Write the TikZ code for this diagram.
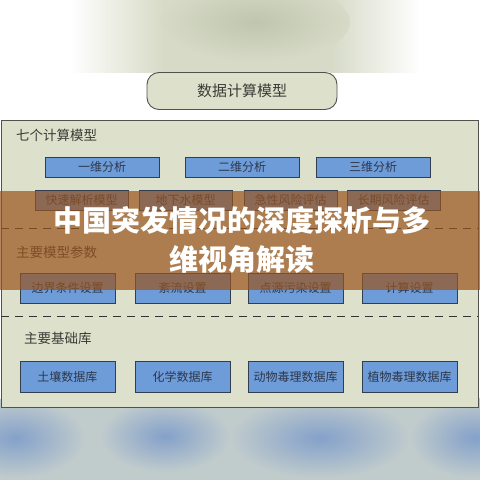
\documentclass[tikz,border=0pt]{standalone}
\usepackage{fontspec}
\newfontfamily\cjk{Noto Sans CJK SC}
\usetikzlibrary{positioning}

\definecolor{paneBg}{RGB}{221,224,202}
\definecolor{paneEdge}{RGB}{80,82,78}
\definecolor{boxBlue}{RGB}{110,156,216}
\definecolor{boxEdge}{RGB}{50,62,80}
\definecolor{boxText}{RGB}{45,55,75}
\definecolor{labelText}{RGB}{60,60,55}
\definecolor{topGreen}{RGB}{214,218,198}
\definecolor{topDark}{RGB}{192,197,176}
\definecolor{bandBrown}{RGB}{153,84,29}
\definecolor{lowBg}{RGB}{192,203,204}
\definecolor{lowBlue}{RGB}{132,161,202}

\begin{document}
\begin{tikzpicture}[x = 1pt, y = -1pt, % pixel grid, y down
                every node/.style = {font = \cjk},
                bluebox/.style = {draw = boxEdge, fill = boxBlue, line width = 0.9pt,
                    inner sep = 0pt, text = boxText, font = \cjk\fontsize{12}{12}\selectfont},
                rowone/.style = {bluebox, minimum width = 114pt, minimum height = 20pt},
                rowtwo/.style = {bluebox, minimum width = 93pt, minimum height = 20pt},
                rowwide/.style = {bluebox, minimum width = 95pt, minimum height = 30pt},
                grouplabel/.style = {anchor = west, inner sep = 0pt, text = labelText,
                    font = \cjk\fontsize{13.5}{13.5}\selectfont},
                sepline/.style = {dashed, dash pattern = on 8pt off 6pt, line width = 0.9pt,
                    draw = black!80}
            ]

            \useasboundingbox (0,0) rectangle (480,480);
            \fill[white] (0,0) rectangle (480,480);

            % blurred strip on top
            \shade[left color = white, right color = topGreen] (70,0) rectangle (165,72);
            \fill[topGreen] (165,0) rectangle (330,72);
            \shade[left color = topGreen, right color = white] (330,0) rectangle (420,72);
            \shade[inner color = topDark, outer color = topGreen] (255,22) ellipse (95 and 40);

            % blurred strip at the bottom
            \fill[lowBg] (0,407) rectangle (480,480);
            \shade[inner color = lowBlue, outer color = lowBg] (15,438) ellipse (70 and 40);
            \shade[inner color = lowBlue, outer color = lowBg] (165,436) ellipse (65 and 36);
            \shade[inner color = lowBlue, outer color = lowBg] (320,438) ellipse (90 and 40);
            \shade[inner color = lowBlue, outer color = lowBg] (475,438) ellipse (65 and 40);

            % heading
            \node[draw = paneEdge, fill = paneBg, rounded corners = 12pt, line width = 0.9pt,
                minimum width = 190pt, minimum height = 37pt, text = labelText,
                font = \cjk\fontsize{15}{15}\selectfont] (heading) at (242,91) {数据计算模型};

            % main panel
            \node[draw = paneEdge, fill = paneBg, line width = 0.9pt, inner sep = 0pt,
                minimum width = 477pt, minimum height = 287pt] (pane) at (239.5,263.5) {};
            \draw[sepline] (1,228) -- (478,228);
            \draw[sepline] (1,316) -- (478,316);

            \node[grouplabel] (seven) at (16,135) {七个计算模型};
            \node[grouplabel] (params) at (16,252) {主要模型参数};
            \node[grouplabel] (bases) at (24,338) {主要基础库};

            \node[rowone] (dimA) at (102,167) {一维分析};
            \node[rowone] (dimB) at (242,167) {二维分析};
            \node[rowone] (dimC) at (373,167) {三维分析};

            \node[rowtwo] (fast) at (81.5,200) {快速解析模型};
            \node[rowtwo] (ground) at (185.5,200) {地下水模型};
            \node[rowtwo] (acute) at (290.5,200) {急性风险评估};
            \node[rowtwo] (chronic) at (393.5,200) {长期风险评估};

            \node[rowwide] (bound) at (67.5,288) {边界条件设置};
            \node[rowwide] (flow) at (182.5,288) {紊流设置};
            \node[rowwide] (point) at (295.5,288) {点源污染设置};
            \node[rowwide] (calc) at (409.5,288) {计算设置};

            \node[rowwide, minimum height = 31pt] (soil) at (67.5,376.5) {土壤数据库};
            \node[rowwide, minimum height = 31pt] (chem) at (182.5,376.5) {化学数据库};
            \node[rowwide, minimum height = 31pt] (animal) at (295.5,376.5) {动物毒理数据库};
            \node[rowwide, minimum height = 31pt] (plant) at (409.5,376.5) {植物毒理数据库};

            % brown band with the title
            \fill[bandBrown, opacity = 0.7] (0,191) rectangle (480,290);
            \node[text = white, align = center, inner sep = 0pt,
                font = \cjk\bfseries\fontsize{29}{39}\selectfont] (title) at (242,240)
                {中国突发情况的深度探析与多\\维视角解读};
\end{tikzpicture}
\end{document}
